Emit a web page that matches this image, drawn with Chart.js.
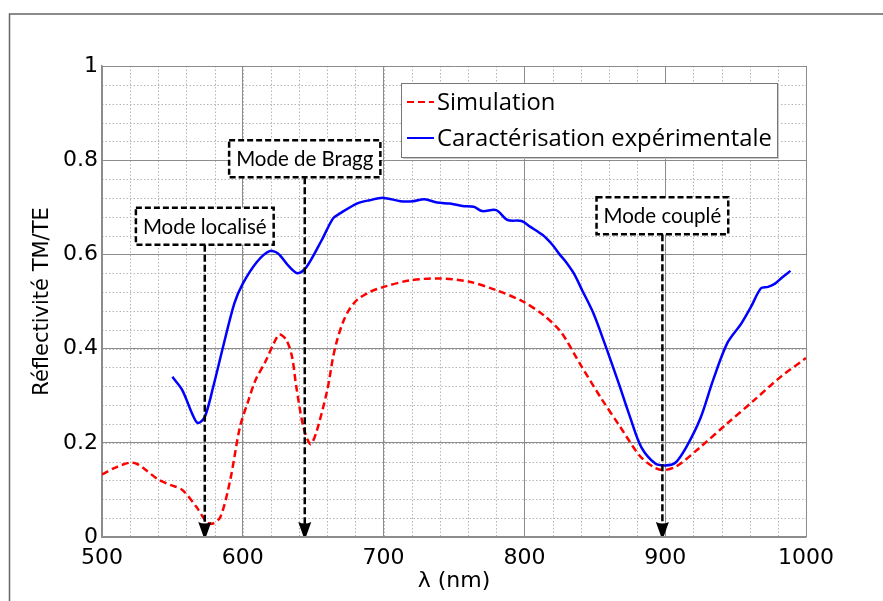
<!DOCTYPE html>
<html>
<head>
<meta charset="utf-8">
<script src="https://cdn.jsdelivr.net/npm/chart.js@4.4.0/dist/chart.umd.min.js"></script>
<style>
  html, body { margin: 0; padding: 0; background: #fff; }
</style>
</head>
<body>
<canvas id="graphe" width="883" height="601"></canvas>
<script>
// ---- données ----
const simLambda = [500, 510, 520, 525, 530, 540, 549, 557, 567, 574, 578, 584, 591, 598, 604, 609, 616, 622, 626, 631, 635, 638, 643, 648, 652, 660, 664, 667, 671, 675, 681, 690, 700, 719, 740, 761, 780, 799, 814, 826, 840, 854, 868, 882, 892, 899, 908, 925, 944, 963, 982, 1000];
const simR = [0.133, 0.148, 0.158, 0.155, 0.145, 0.122, 0.110, 0.100, 0.064, 0.033, 0.028, 0.042, 0.120, 0.234, 0.290, 0.333, 0.372, 0.411, 0.430, 0.418, 0.382, 0.319, 0.234, 0.197, 0.220, 0.312, 0.380, 0.418, 0.455, 0.480, 0.503, 0.520, 0.531, 0.545, 0.549, 0.542, 0.524, 0.500, 0.470, 0.435, 0.365, 0.297, 0.234, 0.172, 0.148, 0.142, 0.150, 0.191, 0.241, 0.290, 0.340, 0.380];

const expLambda = [550, 557, 564, 568, 573, 579, 586, 594, 600, 610, 619, 625, 633, 639, 645, 656, 664, 669, 681, 690, 700, 712, 721, 729, 738, 747, 756, 764, 770, 780, 788, 798, 804, 813, 820, 825, 829, 835, 841, 849, 857, 867, 875, 883, 893, 900, 907, 915, 925, 934, 944, 954, 961, 968, 973, 978, 983, 989];
const expR = [0.340, 0.312, 0.262, 0.242, 0.255, 0.319, 0.404, 0.496, 0.538, 0.584, 0.607, 0.602, 0.574, 0.560, 0.572, 0.630, 0.676, 0.687, 0.708, 0.715, 0.720, 0.713, 0.713, 0.717, 0.710, 0.708, 0.703, 0.701, 0.692, 0.694, 0.673, 0.671, 0.659, 0.641, 0.620, 0.600, 0.586, 0.560, 0.524, 0.475, 0.411, 0.326, 0.255, 0.191, 0.156, 0.152, 0.157, 0.191, 0.252, 0.333, 0.411, 0.453, 0.489, 0.528, 0.531, 0.538, 0.551, 0.565];

const serieNoms = ["Simulation", "Caractérisation expérimentale"];
const xTicks = [500, 600, 700, 800, 900, 1000];
const yTicks = [0, 0.2, 0.4, 0.6, 0.8, 1];

// annotations : texte, centre de la boîte (lambda, R), position de la flèche
const annotTextes = ["Mode localisé", "Mode de Bragg", "Mode couplé"];
const annotLambda = [573, 644, 898];
const annotR = [0.66, 0.803, 0.682];

const polTexte = "Lato, 'Open Sans', sans-serif";

function points(xs, ys) {
    return xs.map((v, i) => ({ x: v, y: ys[i] }));
}

// ======== DÉCOR : cadre, grille secondaire, légende, annotations ========
const decor = {
    id: "decor",
    beforeDraw(chart) {
        const { ctx, scales: { x, y } } = chart;
        ctx.save();
        // cadre extérieur
        ctx.strokeStyle = "#666";
        ctx.lineWidth = 1.5;
        ctx.beginPath();
        ctx.moveTo(883, 14);
        ctx.lineTo(9.5, 14);
        ctx.lineTo(9.5, 601);
        ctx.stroke();
        // grille secondaire pointillée
        ctx.strokeStyle = "#b5b5b5";
        ctx.lineWidth = 1;
        ctx.setLineDash([1.5, 2]);
        for (let i = 0; i <= 25; i++) {
            const px = Math.round(x.getPixelForValue(500 + i * 20)) + 0.5;
            ctx.beginPath();
            ctx.moveTo(px, y.top);
            ctx.lineTo(px, y.bottom);
            ctx.stroke();
        }
        for (let i = 0; i <= 25; i++) {
            const py = Math.round(y.getPixelForValue(i * 0.04)) + 0.5;
            ctx.beginPath();
            ctx.moveTo(x.left, py);
            ctx.lineTo(x.right, py);
            ctx.stroke();
        }
        ctx.restore();
    },
    afterDatasetsDraw(chart) {
        const { ctx, scales: { x, y } } = chart;
        ctx.save();

        // flèches et boîtes
        ctx.font = "20.5px " + polTexte;
        ctx.textAlign = "center";
        ctx.textBaseline = "middle";
        const bas = y.getPixelForValue(0);
        annotTextes.forEach((t, i) => {
            const cx = x.getPixelForValue(annotLambda[i]);
            const cy = y.getPixelForValue(annotR[i]);
            const w = ctx.measureText(t).width + 14;
            const h = 37;
            // flèche
            ctx.strokeStyle = "#000";
            ctx.lineWidth = 2.5;
            ctx.setLineDash([7, 3]);
            ctx.beginPath();
            ctx.moveTo(cx, cy + h / 2);
            ctx.lineTo(cx, bas - 12);
            ctx.stroke();
            ctx.setLineDash([]);
            ctx.fillStyle = "#000";
            ctx.beginPath();
            ctx.moveTo(cx - 6.5, bas - 15);
            ctx.quadraticCurveTo(cx, bas - 12, cx + 6.5, bas - 15);
            ctx.lineTo(cx + 1.5, bas - 1);
            ctx.lineTo(cx - 1.5, bas - 1);
            ctx.closePath();
            ctx.fill();
            // boîte
            ctx.fillStyle = "#fff";
            ctx.fillRect(cx - w / 2, cy - h / 2, w, h);
            ctx.setLineDash([6, 3]);
            ctx.lineWidth = 2.5;
            ctx.strokeRect(cx - w / 2, cy - h / 2, w, h);
            ctx.setLineDash([]);
            ctx.fillStyle = "#000";
            ctx.fillText(t, cx, cy + 1);
        });

        // légende
        const lx = 401, ly = 83, lw = 376, lh = 74;
        ctx.fillStyle = "#c8c8c8";
        ctx.fillRect(lx + 2, ly + 2, lw, lh);
        ctx.fillStyle = "#fff";
        ctx.fillRect(lx, ly, lw, lh);
        ctx.strokeStyle = "#777";
        ctx.lineWidth = 1;
        ctx.strokeRect(lx + 0.5, ly + 0.5, lw, lh);
        ctx.font = "23.8px 'Open Sans', sans-serif";
        ctx.textAlign = "left";
        ctx.textBaseline = "middle";
        chart.data.datasets.forEach((ds, i) => {
            const ry = [102, 138][i];
            ctx.strokeStyle = ds.borderColor;
            ctx.lineWidth = 2;
            ctx.setLineDash(ds.borderDash || []);
            ctx.beginPath();
            ctx.moveTo(407, ry);
            ctx.lineTo(434, ry);
            ctx.stroke();
            ctx.setLineDash([]);
            ctx.fillStyle = "#000";
            ctx.fillText(ds.label, 437, ry + 1);
        });
        ctx.restore();
    }
};

const ctx = document.getElementById("graphe").getContext("2d");
new Chart(ctx, {
    type: "line",
    data: {
        datasets: [
            {
                label: serieNoms[0],
                data: points(simLambda, simR),
                borderColor: "#ff0000",
                borderWidth: 2.5,
                borderDash: [7, 4],
                pointRadius: 0,
                tension: 0.3,
                fill: false
            },
            {
                label: serieNoms[1],
                data: points(expLambda, expR),
                borderColor: "#0000ff",
                borderWidth: 2.5,
                pointRadius: 0,
                tension: 0.3,
                fill: false
            }
        ]
    },
    options: {
        responsive: false,
        animation: false,
        layout: { padding: { top: 66, right: 77, left: 0, bottom: 0 } },
        plugins: {
            legend: { display: false },
            tooltip: { enabled: false }
        },
        scales: {
            x: {
                type: "linear",
                min: 500,
                max: 1000,
                afterFit: s => { s.height = 64; },
                afterBuildTicks: s => { s.ticks = xTicks.map(v => ({ value: v })); },
                grid: { color: "#8c8c8c", lineWidth: 1, drawTicks: false },
                border: { color: "#8c8c8c", width: 1.5 },
                ticks: {
                    color: "#000",
                    padding: 8,
                    maxRotation: 0,
                    font: { family: "'DejaVu Sans'", size: 22 },
                    callback: v => String(v)
                },
                title: {
                    display: true,
                    text: "λ (nm)",
                    color: "#000",
                    font: { family: "'DejaVu Sans'", size: 22 },
                    padding: { top: 0, bottom: 7 }
                }
            },
            y: {
                min: 0,
                max: 1,
                afterFit: s => { s.width = 102; },
                afterBuildTicks: s => { s.ticks = yTicks.map(v => ({ value: v })); },
                grid: { color: "#8c8c8c", lineWidth: 1, drawTicks: false },
                border: { color: "#8c8c8c", width: 1.5 },
                ticks: {
                    color: "#000",
                    padding: 4,
                    font: { family: "'DejaVu Sans'", size: 22 },
                    callback: v => String(Math.round(v * 10) / 10)
                },
                title: {
                    display: true,
                    text: "Réflectivité TM/TE",
                    color: "#000",
                    font: { family: "'DejaVu Sans'", size: 21 },
                    padding: { top: 30, bottom: 0 }
                }
            }
        }
    },
    plugins: [decor]
});
</script>
</body>
</html>
